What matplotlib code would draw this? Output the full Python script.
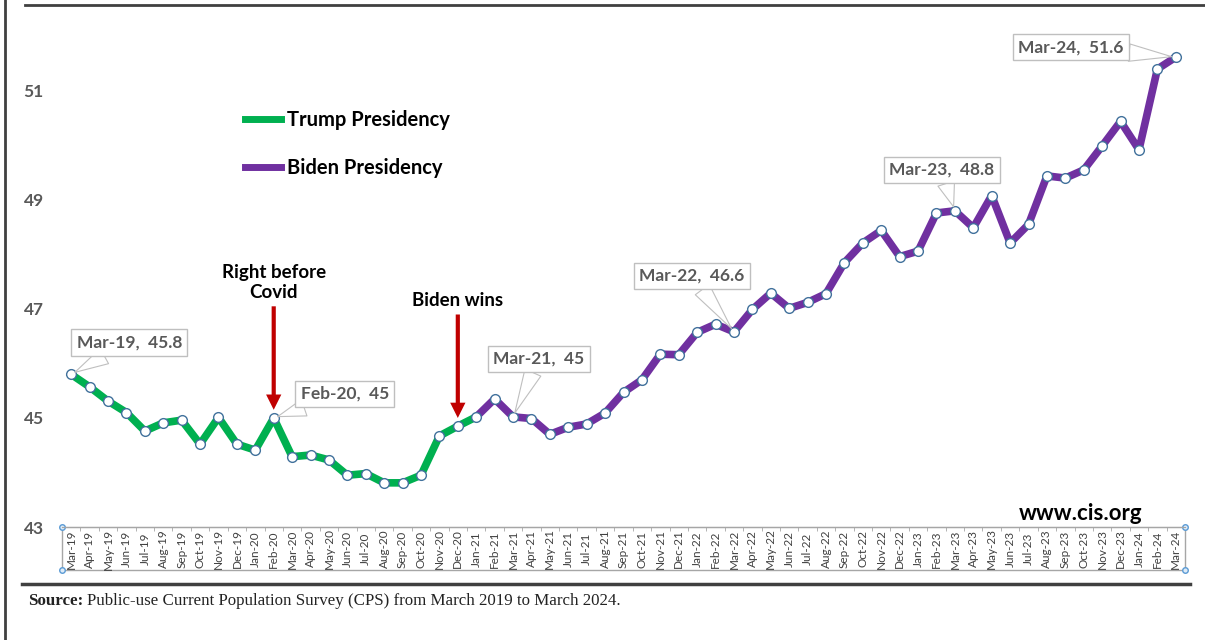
import numpy as np
import pandas as pd
import matplotlib.pyplot as plt
from matplotlib.lines import Line2D
from matplotlib.patches import Rectangle

plt.rcParams['font.family'] = ['Lato', 'DejaVu Sans']

# month labels Mar-19 .. Mar-24
months = pd.date_range('2019-03-01', '2024-03-01', freq='MS').strftime('%b-%y').tolist()

# millions
trump = [45.8, 45.57, 45.31, 45.10, 44.76, 44.91, 44.96, 44.52, 45.01, 44.52,
         44.41, 45.0, 44.29, 44.32, 44.23, 43.95, 43.98, 43.81, 43.81, 43.95,
         44.67, 44.85, 45.02]                      # Mar-19 .. Jan-21
biden = [45.35, 45.02, 44.99, 44.70, 44.83, 44.89, 45.09, 45.47, 45.70, 46.17,
         46.16, 46.57, 46.72, 46.58, 46.99, 47.29, 47.01, 47.12, 47.28, 47.85,
         48.21, 48.44, 47.96, 48.06, 48.76, 48.8, 48.49, 49.08, 48.21, 48.55,
         49.44, 49.40, 49.55, 49.99, 50.44, 49.92, 51.40, 51.62]  # Feb-21 .. Mar-24

callouts = ['Mar-19', 'Feb-20', 'Mar-21', 'Mar-22', 'Mar-23', 'Mar-24']
callout_offsets = [(58, 32), (71, 24), (26, 58), (-42, 56), (-13, 41), (-105, 10)]
events = [('Feb-20', 'Right before\nCovid'), ('Dec-20', 'Biden wins')]

green = '#00B050'
purple = '#7030A0'

values = trump + biden
x = np.arange(len(values))
nt = len(trump)

fig = plt.figure(figsize=(12.05, 6.4), dpi=100)
ax = fig.add_axes([62 / 1205, 113 / 640, 1123 / 1205, 507 / 640])

ax.plot(x[:nt], trump, color=green, lw=5.5, zorder=2)
ax.plot(x[nt - 1:], [trump[-1]] + biden, color=purple, lw=5.5, zorder=2)
ax.plot(x, values, ls='none', marker='o', ms=7, mfc='white', mec='#41719C',
        mew=1, zorder=3)

ax.set_xlim(-0.5, len(values) - 0.5)
ax.set_ylim(43, 52.3)
ax.set_yticks([43, 45, 47, 49, 51])
ax.set_xticks(x)
ax.set_xticklabels(months, rotation=90, fontsize=8.5, color='#404040')
ax.set_xticks(np.arange(-0.5, len(values)), minor=True)
ax.tick_params(axis='x', which='major', length=0, pad=15.8)
ax.tick_params(axis='x', which='minor', length=3, color='#A6A6A6', direction='out')
for lab in ax.get_xticklabels():
    lab.set_va('center')
ax.tick_params(axis='y', length=0, pad=13, labelsize=12.5, labelcolor='#595959')
for lab in ax.get_yticklabels():
    lab.set_fontweight('bold')

for s in ['top', 'right', 'left']:
    ax.spines[s].set_visible(False)
ax.spines['bottom'].set_color('#A6A6A6')

# label box under the axis
h = 43 / 507
ax.add_patch(Rectangle((0, -h), 1, h, transform=ax.transAxes, fill=False,
                       ec='#A6A6A6', lw=1, clip_on=False))
ax.plot([0, 0, 1, 1], [0, -h, 0, -h], transform=ax.transAxes, ls='none',
        marker='o', ms=4, mfc='#DEEBF7', mec='#5B9BD5', mew=1, clip_on=False)

# data callouts
for lab, (dx, dy) in zip(callouts, callout_offsets):
    i = months.index(lab)
    v = values[i]
    ax.annotate(f"{lab},  {round(v, 1):g}", xy=(i, v), xytext=(dx, dy),
                textcoords='offset pixels', ha='center', va='center',
                fontsize=12.5, fontweight='bold', color='#595959',
                bbox=dict(boxstyle='square,pad=0.3', fc='white', ec='#BFBFBF', lw=1),
                arrowprops=dict(arrowstyle='wedge,tail_width=1.0', fc='white',
                                ec='#BFBFBF', lw=0.8, shrinkA=0, shrinkB=3),
                zorder=5)

# red arrows
for lab, txt in events:
    i = months.index(lab)
    v = values[i]
    ax.annotate(txt, xy=(i, v + 0.15), xytext=(i, v + 2.15), ha='center',
                va='bottom', fontsize=13.5, fontweight='bold', color='black',
                multialignment='center',
                arrowprops=dict(arrowstyle='simple,head_width=11,head_length=11,tail_width=3',
                                fc='#C00000', ec='none', mutation_scale=1,
                                shrinkA=2, shrinkB=0))

handles = [Line2D([], [], color=green, lw=5), Line2D([], [], color=purple, lw=5)]
ax.legend(handles, ['Trump Presidency', 'Biden Presidency'], loc='upper left',
          bbox_to_anchor=(245 / 1205, 1 - 110 / 640), bbox_transform=fig.transFigure,
          frameon=False, prop=dict(weight='bold', size=14.5), handlelength=1.8,
          handletextpad=0.3, labelspacing=1.4, borderpad=0, borderaxespad=0)

fig.text(1142 / 1205, 1 - 513 / 640, 'www.cis.org', ha='right', va='center',
         fontsize=16, fontweight='bold', color='black')

t1 = fig.text(28 / 1205, 1 - 609 / 640, 'Source:', family='Liberation Serif',
              weight='bold', fontsize=12.2, va='bottom', color='#222222')
ax.annotate('Public-use Current Population Survey (CPS) from March 2019 to March 2024.',
            xy=(1, 0), xycoords=t1, xytext=(3, 0), textcoords='offset points',
            va='bottom', ha='left', family='Liberation Serif', fontsize=12.2,
            color='#222222', annotation_clip=False)

# page frame lines
fig.add_artist(Line2D([5 / 1205, 5 / 1205], [0, 1], transform=fig.transFigure,
                      color='#404040', lw=2))
fig.add_artist(Line2D([25 / 1205, 1], [1 - 5 / 640] * 2, transform=fig.transFigure,
                      color='#404040', lw=2))
fig.add_artist(Line2D([22 / 1205, 1190 / 1205], [1 - 584 / 640] * 2,
                      transform=fig.transFigure, color='#404040', lw=2.5))

fig.savefig('out.png', dpi=100)
